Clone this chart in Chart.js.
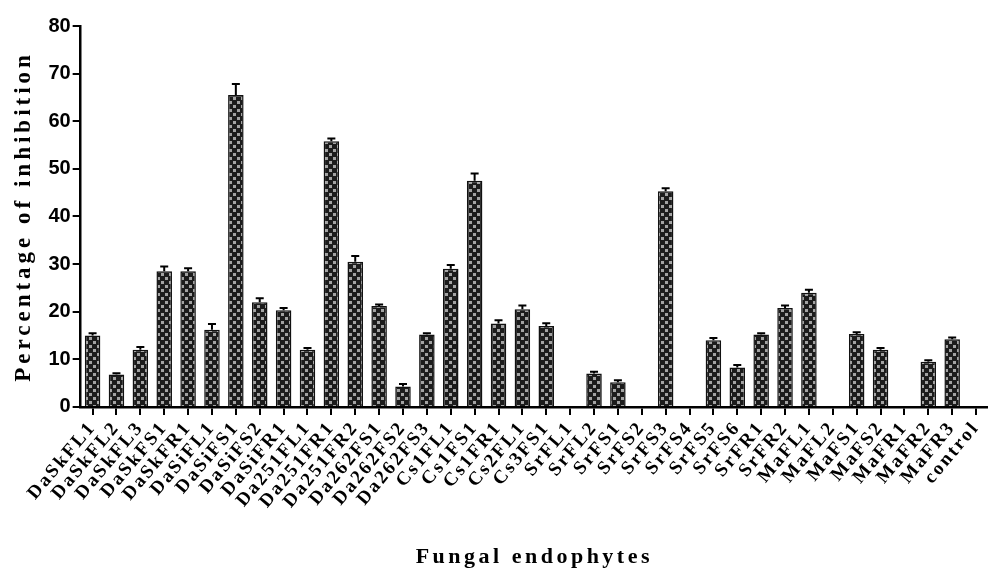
<!DOCTYPE html>
<html>
<head>
<meta charset="utf-8">
<script src="https://cdn.jsdelivr.net/npm/chart.js@4.4.1/dist/chart.umd.min.js"></script>
<style>
  html, body { margin: 0; padding: 0; background: #fff; }
  #wrap { width: 988px; height: 576px; }
</style>
</head>
<body>
<div id="wrap"><canvas id="grafica"></canvas></div>
<script>
// endophyte isolates, in the order they appear on the x axis
const isolates = [
  'DaSkFL1', 'DaSkFL2', 'DaSkFL3', 'DaSkFS1', 'DaSkFR1', 'DaSiFL1', 'DaSiFS1', 'DaSiFS2',
  'DaSiFR1', 'Da251FL1', 'Da251FR1', 'Da251FR2', 'Da262FS1', 'Da262FS2', 'Da262FS3',
  'Cs1FL1', 'Cs1FS1', 'Cs1FR1', 'Cs2FL1', 'Cs3FS1', 'SrFL1', 'SrFL2', 'SrFS1', 'SrFS2',
  'SrFS3', 'SrFS4', 'SrFS5', 'SrFS6', 'SrFR1', 'SrFR2', 'MaFL1', 'MaFL2', 'MaFS1',
  'MaFS2', 'MaFR1', 'MaFR2', 'MaFR3', 'control'
];

// % inhibition (mean) and its error (upper whisker only)
const inhibition = [
  15.0, 6.8, 12.0, 28.5, 28.5, 16.2, 65.5, 22.0,
  20.3, 12.0, 55.8, 30.5, 21.2, 4.3, 15.2,
  29.0, 47.5, 17.5, 20.5, 17.0, 0, 7.0, 5.2, 0,
  45.3, 0, 14.0, 8.3, 15.2, 20.8, 24.0, 0, 15.3,
  12.0, 0, 9.5, 14.2, 0
];
const errores = [
  0.5, 0.3, 0.6, 1.0, 0.6, 1.2, 2.3, 0.8,
  0.5, 0.4, 0.6, 1.2, 0.3, 0.5, 0.3,
  0.8, 1.5, 0.7, 0.8, 0.6, 0, 0.4, 0.4, 0,
  0.6, 0, 0.5, 0.5, 0.3, 0.5, 0.6, 0, 0.4,
  0.4, 0, 0.3, 0.4, 0
];

const yTicks = [0, 10, 20, 30, 40, 50, 60, 70, 80];

// checkered fill like the printed figure
function checker() {
  const c = document.createElement('canvas');
  c.width = 8; c.height = 8;
  const g = c.getContext('2d');
  g.fillStyle = '#1c1c1c';
  g.fillRect(0, 0, 8, 8);
  g.fillStyle = '#a3a3a3';
  g.fillRect(1, 1, 3, 3);
  g.fillRect(5, 5, 3, 3);
  return g.createPattern(c, 'repeat');
}

// wrap a scale method so it draws with its own letter spacing
function conEspacio(scale, metodo, px) {
  if (scale['_orig_' + metodo]) return;
  const orig = scale[metodo];
  scale['_orig_' + metodo] = orig;
  scale[metodo] = function (...args) {
    const ctx = this.ctx;
    const antes = ctx.letterSpacing;
    ctx.letterSpacing = px;
    orig.apply(this, args);
    ctx.letterSpacing = antes;
  };
}

// Prism-like wide lettering
const espaciado = {
  id: 'espaciado',
  beforeLayout(chart) { chart.ctx.letterSpacing = '2.4px'; },
  afterLayout(chart) {
    conEspacio(chart.scales.x, 'drawTitle', '3.5px');
    conEspacio(chart.scales.y, 'drawTitle', '4px');
    conEspacio(chart.scales.y, 'drawLabels', '0px');
  },
  beforeDraw(chart) { chart.ctx.letterSpacing = '2.4px'; }
};

// upper error whiskers with a cap
const barrasError = {
  id: 'barrasError',
  afterDatasetsDraw(chart) {
    const ctx = chart.ctx;
    const y = chart.scales.y;
    const meta = chart.getDatasetMeta(0);
    ctx.save();
    ctx.strokeStyle = '#000';
    ctx.lineWidth = 2;
    meta.data.forEach((bar, i) => {
      if (!inhibition[i]) return;
      const top = y.getPixelForValue(inhibition[i] + errores[i]);
      ctx.beginPath();
      ctx.moveTo(bar.x, bar.y);
      ctx.lineTo(bar.x, top);
      ctx.moveTo(bar.x - 4, top);
      ctx.lineTo(bar.x + 4, top);
      ctx.stroke();
    });
    ctx.restore();
  }
};

document.addEventListener('DOMContentLoaded', () => {
  const canvas = document.getElementById('grafica');
  const ctx = canvas.getContext('2d');

  new Chart(ctx, {
    type: 'bar',
    data: {
      labels: isolates,
      datasets: [{
        label: 'Percentage of inhibition',
        data: inhibition,
        backgroundColor: checker(),
        borderColor: '#111',
        borderWidth: 1.5,
        barPercentage: 0.65,
        categoryPercentage: 1.0
      }]
    },
    options: {
      responsive: true,
      maintainAspectRatio: false,
      animation: false,
      layout: { padding: { left: 10, right: 0, top: 26, bottom: 5 } },
      plugins: {
        legend: { display: false },
        tooltip: { enabled: false }
      },
      scales: {
        x: {
          // the rotated last label hangs to the left, so no room is needed on the right
          afterFit(scale) { scale.paddingRight = 0; },
          grid: { display: true, drawOnChartArea: false, offset: false, color: '#000', lineWidth: 2, tickLength: 8 },
          border: { color: '#000', width: 2.5 },
          ticks: {
            autoSkip: false,
            minRotation: 50,
            maxRotation: 50,
            color: '#000',
            padding: 2,
            font: { family: 'Liberation Serif', weight: 'bold', size: 19 }
          },
          title: {
            display: true,
            text: 'Fungal endophytes',
            color: '#000',
            padding: { top: 30, bottom: 0 },
            font: { family: 'Liberation Serif', weight: 'bold', size: 22 }
          }
        },
        y: {
          min: 0,
          max: 80,
          afterBuildTicks(scale) { scale.ticks = yTicks.map(v => ({ value: v })); },
          grid: { display: true, drawOnChartArea: false, color: '#000', lineWidth: 2, tickLength: 8 },
          border: { color: '#000', width: 2.5 },
          ticks: {
            color: '#000',
            padding: 2,
            font: { family: 'Liberation Sans', weight: 'bold', size: 20 }
          },
          title: {
            display: true,
            text: 'Percentage of inhibition',
            color: '#000',
            padding: { top: 0, bottom: 4 },
            font: { family: 'Liberation Serif', weight: 'bold', size: 23 }
          }
        }
      }
    },
    plugins: [espaciado, barrasError]
  });
});
</script>
</body>
</html>
